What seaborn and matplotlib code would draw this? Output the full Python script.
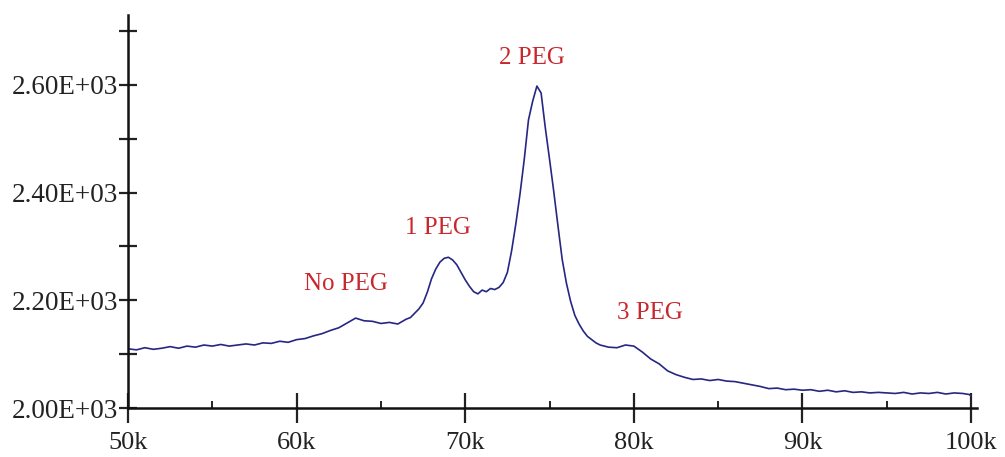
import matplotlib
matplotlib.use("Agg")
import matplotlib.pyplot as plt
import seaborn as sns
import pandas as pd
from matplotlib.ticker import FixedLocator, FuncFormatter

# ---- data ----
mass_k = [
    50.0, 50.5, 51.0, 51.5, 52.0, 52.5, 53.0, 53.5, 54.0, 54.5,
    55.0, 55.5, 56.0, 56.5, 57.0, 57.5, 58.0, 58.5, 59.0, 59.5,
    60.0, 60.5, 61.0, 61.5, 62.0, 62.5, 63.0, 63.5, 64.0, 64.5,
    65.0, 65.5, 66.0, 66.5,
    66.75, 67.0, 67.25, 67.5, 67.75, 68.0, 68.25, 68.5, 68.75, 69.0,
    69.25, 69.5, 69.75, 70.0, 70.25, 70.5, 70.75, 71.0, 71.25, 71.5,
    71.75, 72.0, 72.25, 72.5, 72.75, 73.0, 73.25, 73.5, 73.75, 74.0,
    74.25, 74.5, 74.75, 75.0, 75.25, 75.5, 75.75, 76.0, 76.25, 76.5,
    76.75, 77.0, 77.25, 77.5, 77.75, 78.0,
    78.5, 79.0, 79.5, 80.0, 80.5, 81.0, 81.5, 82.0, 82.5, 83.0,
    83.5, 84.0, 84.5, 85.0, 85.5, 86.0, 86.5, 87.0, 87.5, 88.0,
    88.5, 89.0, 89.5, 90.0, 90.5, 91.0, 91.5, 92.0, 92.5, 93.0,
    93.5, 94.0, 94.5, 95.0, 95.5, 96.0, 96.5, 97.0, 97.5, 98.0,
    98.5, 99.0, 99.5, 99.9, 100.0,
]
intensity = [
    2110, 2108, 2112, 2109, 2111, 2114, 2111, 2115, 2113, 2117,
    2115, 2118, 2115, 2117, 2119, 2117, 2121, 2120, 2124, 2122,
    2127, 2129, 2134, 2138, 2144, 2149, 2158, 2167, 2162, 2161,
    2157, 2159, 2156, 2165,
    2168, 2176, 2184, 2195, 2215, 2240, 2258, 2271, 2278, 2280,
    2275, 2266, 2252, 2238, 2226, 2216, 2212, 2219, 2216, 2222,
    2220, 2224, 2233, 2252, 2292, 2342, 2398, 2462, 2535, 2570,
    2598, 2585, 2520, 2462, 2402, 2338, 2276, 2232, 2198, 2172,
    2156, 2143, 2133, 2127, 2121, 2117,
    2113, 2112, 2117, 2115, 2104, 2091, 2082, 2069, 2062, 2057,
    2053, 2054, 2051, 2053, 2050, 2049, 2046, 2043, 2040, 2036,
    2037, 2034, 2035, 2033, 2034, 2031, 2033, 2030, 2032, 2029,
    2030, 2028, 2029, 2028, 2027, 2029, 2026, 2028, 2027, 2029,
    2026, 2028, 2027, 2025, 2022,
]

peak_labels = ["No PEG", "1 PEG", "2 PEG", "3 PEG"]
label_x = [62.93, 68.39, 73.96, 80.96]
label_y = [2231, 2334, 2650, 2176]

x_major = [50, 60, 70, 80, 90, 100]
x_minor = [55, 65, 75, 85, 95]
y_major = [2000, 2200, 2400, 2600]
y_minor = [2100, 2300, 2500, 2700]

# ---- plot ----
sns.set_style("ticks")
plt.rcParams["font.family"] = ["Liberation Serif", "DejaVu Serif"]

W, H = 1005, 457
fig = plt.figure(figsize=(W / 100, H / 100), dpi=100)
ax = fig.add_axes([128 / W, 49 / H, (977 - 128) / W, (408 - 15) / H])

df = pd.DataFrame({"mass": mass_k, "intensity": intensity})
sns.lineplot(data=df, x="mass", y="intensity", ax=ax, color="#262684",
             linewidth=1.2, estimator=None, sort=False)

ax.set_xlim(50, 100.35)
ax.set_ylim(2000, 2730)

ax.xaxis.set_major_locator(FixedLocator(x_major))
ax.xaxis.set_minor_locator(FixedLocator(x_minor))
ax.yaxis.set_major_locator(FixedLocator(y_major))
ax.yaxis.set_minor_locator(FixedLocator(y_minor))
ax.xaxis.set_major_formatter(FuncFormatter(lambda v, p: f"{int(round(v))}k"))
ax.yaxis.set_major_formatter(FuncFormatter(lambda v, p: f"{v / 1000:.2f}E+03"))

ax.tick_params(axis="x", which="major", direction="inout", length=22,
               width=1.6, pad=6.5, labelsize=19, colors="#222222")
ax.tick_params(axis="x", which="minor", direction="in", length=5, width=1.4,
               colors="#222222")
ax.tick_params(axis="y", which="both", direction="inout", length=13.5,
               width=1.6, pad=0.5, labelsize=19.5, colors="#222222")

ax.set_xlabel("")
ax.set_ylabel("")
for side in ["top", "right"]:
    ax.spines[side].set_visible(False)
for side in ["left", "bottom"]:
    ax.spines[side].set_linewidth(1.8)
    ax.spines[side].set_color("#111111")

for txt, xv, yv in zip(peak_labels, label_x, label_y):
    ax.text(xv, yv, txt, color="#c8282d", fontsize=18, ha="center",
            va="center")

fig.savefig("out.png", dpi=100)
